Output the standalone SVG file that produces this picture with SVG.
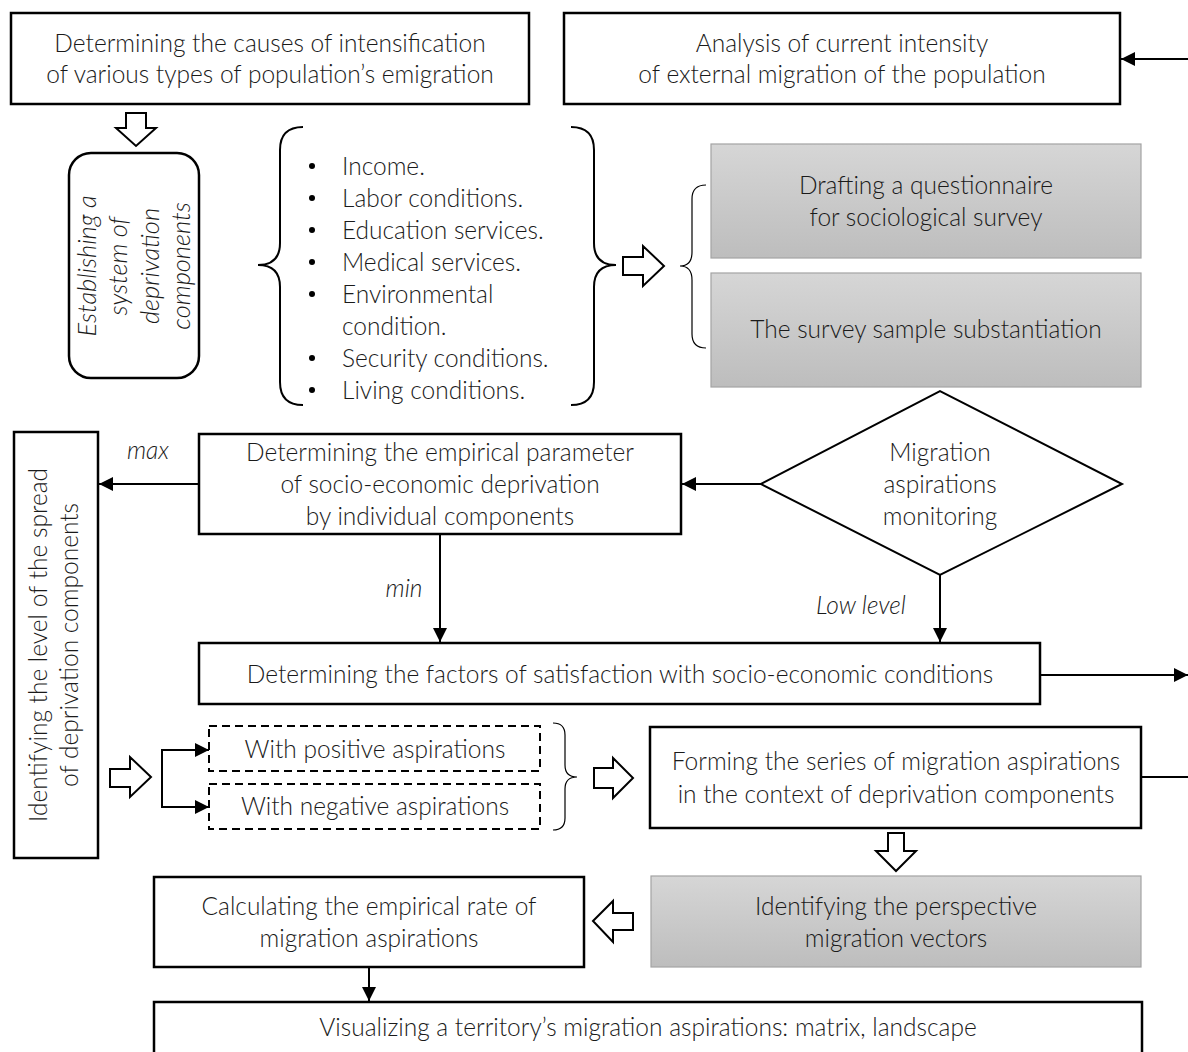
<svg xmlns="http://www.w3.org/2000/svg" width="1188" height="1052" viewBox="0 0 1188 1052">
<style>
.box{fill:#fff;stroke:#000;stroke-width:2.5}
.gray{fill:url(#g);stroke:#a3a3a3;stroke-width:1.2}
.dash{fill:#fff;stroke:#000;stroke-width:2;stroke-dasharray:8 5}
.hol{fill:#fff;stroke:#000;stroke-width:2;stroke-linejoin:miter}
.br{fill:none;stroke:#000;stroke-width:2}
.brt{fill:none;stroke:#000;stroke-width:1.2}
.ln{fill:none;stroke:#000;stroke-width:2}
text{font-family:Lato,"Open Sans","Liberation Sans",sans-serif;font-size:24.5px;font-weight:300;fill:#1a1a1a}
.c{text-anchor:middle}
.i{font-style:italic}
.ri{font-size:25.5px}
</style>
<defs>
<linearGradient id="g" x1="0" y1="0" x2="0" y2="1">
<stop offset="0" stop-color="#d6d6d6"/>
<stop offset="1" stop-color="#bdbdbd"/>
</linearGradient>
<marker id="ah" markerUnits="userSpaceOnUse" markerWidth="16" markerHeight="14" refX="14" refY="7" orient="auto">
<path d="M0,0 L14,7 L0,14 Z" fill="#000"/>
</marker>
</defs>

<g id="connectors">
<path class="ln" d="M1188,59 H1121" marker-end="url(#ah)"/>
<path class="ln" d="M199,484 H99" marker-end="url(#ah)"/>
<path class="ln" d="M761,484 H682" marker-end="url(#ah)"/>
<path class="ln" d="M440,534 V642" marker-end="url(#ah)"/>
<path class="ln" d="M940,575 V642" marker-end="url(#ah)"/>
<path class="ln" d="M1040,675 H1188" marker-end="url(#ah)"/>
<path class="ln" d="M162,778 V750 H209" marker-end="url(#ah)"/>
<path class="ln" d="M162,778 V807 H209" marker-end="url(#ah)"/>
<path class="ln" d="M1141,777 H1188"/>
<path class="ln" d="M369,967 V1001" marker-end="url(#ah)"/>
<polygon class="hol" points="126,113 146,113 146,128 156,128 136,146 116,128 126,128"/>
<polygon class="hol" points="623,257 643,257 643,246 664,266 643,286 643,275 623,275"/>
<polygon class="hol" points="110,769 130,769 130,757 151,777 130,797 130,787 110,787"/>
<polygon class="hol" points="594,768 613,768 613,758 633,778 613,798 613,788 594,788"/>
<polygon class="hol" points="888,833 904,833 904,851 916,851 896,871 876,851 888,851"/>
<polygon class="hol" points="593,921 613,901 613,913 633,913 633,930 613,930 613,942"/>
<path class="br" d="M303,127 Q280,127 280,150 L280,243 Q280,265 258,265 Q280,265 280,287 L280,382 Q280,405 303,405"/>
<path class="br" d="M571,127 Q594,127 594,150 L594,243 Q594,265 616,265 Q594,265 594,287 L594,382 Q594,405 571,405"/>
<path class="brt" d="M706,185 Q692,185 692,199 L692,252 Q692,266 680,266 Q692,266 692,280 L692,334 Q692,348 706,348"/>
<path class="brt" d="M553,723 Q565,723 565,735 L565,765 Q565,777 577,777 Q565,777 565,789 L565,818 Q565,830 553,830"/>
<text class="i" x="148" y="459" text-anchor="middle">max</text>
<text class="i" x="404" y="597" text-anchor="middle">min</text>
<text class="i" x="861" y="614" text-anchor="middle">Low level</text>
</g>

<g id="n1">
<rect class="box" x="11" y="13" width="518" height="91"/>
<text class="c" x="270" y="52">Determining the causes of intensification</text>
<text class="c" x="270" y="83">of various types of population’s emigration</text>
</g>

<g id="n2">
<rect class="box" x="564" y="13" width="556" height="91"/>
<text class="c" x="842" y="52">Analysis of current intensity</text>
<text class="c" x="842" y="83">of external migration of the population</text>
</g>

<g id="n3">
<rect class="box" x="69" y="153" width="130" height="225" rx="22"/>
<g transform="translate(134,266) rotate(-90)">
<text class="c i ri" x="0" y="-38">Establishing a</text>
<text class="c i ri" x="0" y="-7">system of</text>
<text class="c i ri" x="0" y="25">deprivation</text>
<text class="c i ri" x="0" y="56">components</text>
</g>
</g>

<g id="n4">
<circle cx="312" cy="166" r="3"/><text x="342" y="175">Income.</text>
<circle cx="312" cy="198" r="3"/><text x="342" y="207">Labor conditions.</text>
<circle cx="312" cy="230" r="3"/><text x="342" y="239">Education services.</text>
<circle cx="312" cy="262" r="3"/><text x="342" y="271">Medical services.</text>
<circle cx="312" cy="294" r="3"/><text x="342" y="303">Environmental</text>
<text x="342" y="335">condition.</text>
<circle cx="312" cy="358" r="3"/><text x="342" y="367">Security conditions.</text>
<circle cx="312" cy="390" r="3"/><text x="342" y="399">Living conditions.</text>
</g>

<g id="n5">
<rect class="gray" x="711" y="144" width="430" height="114"/>
<text class="c" x="926" y="194">Drafting a questionnaire</text>
<text class="c" x="926" y="226">for sociological survey</text>
</g>

<g id="n6">
<rect class="gray" x="711" y="273" width="430" height="114"/>
<text class="c" x="926" y="338">The survey sample substantiation</text>
</g>

<g id="n7">
<rect class="box" x="14" y="432" width="84" height="426"/>
<g transform="translate(56,645) rotate(-90)">
<text class="c" x="0" y="-9">Identifying the level of the spread</text>
<text class="c" x="0" y="22">of deprivation components</text>
</g>
</g>

<g id="n8">
<rect class="box" x="199" y="434" width="482" height="100"/>
<text class="c" x="440" y="461">Determining the empirical parameter</text>
<text class="c" x="440" y="493">of socio-economic deprivation</text>
<text class="c" x="440" y="525">by individual components</text>
</g>

<g id="n9">
<polygon points="761,484 940,391 1122,484 940,575" fill="#fff" stroke="#000" stroke-width="2"/>
<text class="c" x="940" y="461">Migration</text>
<text class="c" x="940" y="493">aspirations</text>
<text class="c" x="940" y="525">monitoring</text>
</g>

<g id="n10">
<rect class="box" x="199" y="643" width="841" height="61"/>
<text class="c" x="620" y="683">Determining the factors of satisfaction with socio-economic conditions</text>
</g>

<g id="n11">
<rect class="dash" x="209" y="726" width="331" height="45"/>
<text class="c" x="375" y="758">With positive aspirations</text>
</g>

<g id="n12">
<rect class="dash" x="209" y="784" width="331" height="45"/>
<text class="c" x="375" y="815">With negative aspirations</text>
</g>

<g id="n13">
<rect class="box" x="650" y="727" width="491" height="101"/>
<text class="c" x="896" y="770">Forming the series of migration aspirations</text>
<text class="c" x="896" y="803">in the context of deprivation components</text>
</g>

<g id="n14">
<rect class="gray" x="651" y="876" width="490" height="91"/>
<text class="c" x="896" y="915">Identifying the perspective</text>
<text class="c" x="896" y="947">migration vectors</text>
</g>

<g id="n15">
<rect class="box" x="154" y="877" width="430" height="90"/>
<text class="c" x="369" y="915">Calculating the empirical rate of</text>
<text class="c" x="369" y="947">migration aspirations</text>
</g>

<g id="n16">
<rect class="box" x="154" y="1002" width="988" height="60"/>
<text class="c" x="648" y="1036">Visualizing a territory’s migration aspirations: matrix, landscape</text>
</g>
</svg>
